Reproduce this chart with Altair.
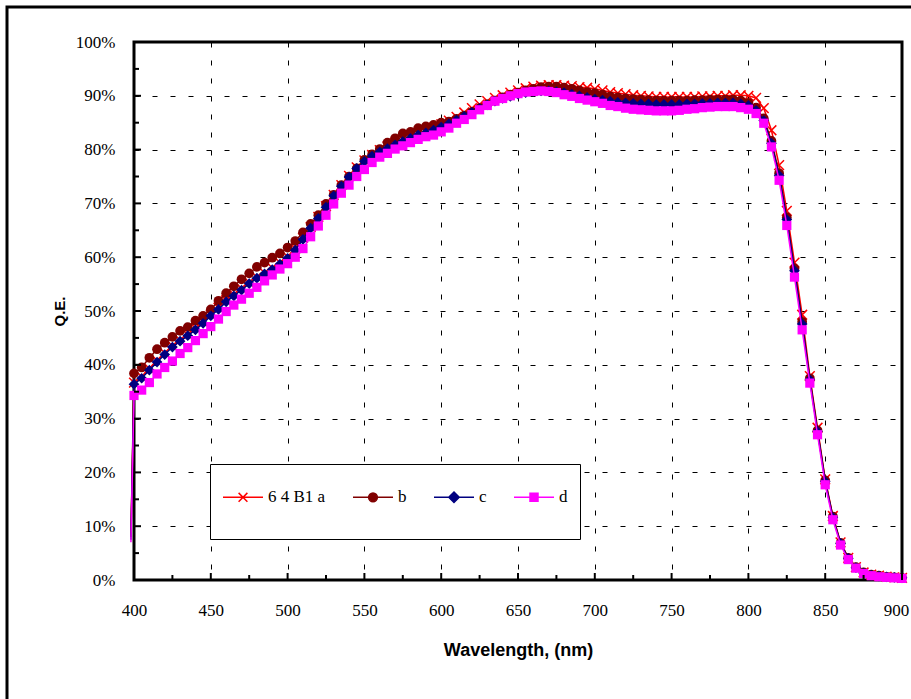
import altair as alt
import pandas as pd

wavelength = list(range(400, 905, 5))
names = ["6 4 B1 a", "b", "c", "d"]
colors = ["#FF0000", "#800000", "#000080", "#FF00FF"]

qe_a = [36.7, 37.8, 39.3, 40.8, 42.2, 43.5, 44.6, 45.6, 46.8, 48.0,
        49.3, 50.6, 52.0, 53.1, 54.2, 55.3, 56.3, 57.1, 58.0, 59.0,
        60.1, 61.6, 63.6, 65.6, 67.5, 69.5, 71.6, 73.4, 75.1, 76.7,
        78.0, 79.0, 79.9, 80.6, 81.3, 81.9, 82.5, 83.1, 83.6, 84.1,
        84.7, 85.4, 86.1, 86.9, 87.7, 88.4, 89.0, 89.6, 90.1, 90.6,
        91.0, 91.4, 91.7, 91.9, 92.0, 92.0, 91.9, 91.8, 91.6, 91.5,
        91.3, 91.0, 90.7, 90.5, 90.3, 90.1, 90.0, 89.9, 89.8, 89.8,
        89.8, 89.8, 89.8, 89.8, 89.9, 89.9, 90.0, 90.0, 90.1, 90.1,
        90.0, 89.6, 87.7, 83.6, 77.1, 68.6, 59.0, 49.3, 37.9, 28.3,
        18.7, 11.9, 7.0, 4.1, 2.4, 1.4, 1.0, 0.8, 0.6, 0.5,
        0.4]
qe_b = [38.4, 39.5, 41.3, 42.9, 44.1, 45.2, 46.3, 47.0, 48.2, 49.1,
        50.3, 51.9, 53.3, 54.6, 55.9, 57.0, 58.2, 59.0, 59.9, 60.7,
        61.8, 63.0, 64.6, 66.2, 67.8, 69.9, 71.6, 73.4, 75.0, 76.5,
        78.1, 79.1, 80.1, 81.3, 82.1, 83.0, 83.3, 84.0, 84.3, 84.6,
        85.0, 85.2, 85.7, 86.3, 87.0, 87.7, 88.4, 89.1, 89.7, 90.2,
        90.6, 91.0, 91.3, 91.6, 91.7, 91.7, 91.5, 91.3, 91.0, 90.7,
        90.5, 90.2, 89.9, 89.7, 89.5, 89.4, 89.3, 89.2, 89.1, 89.1,
        89.1, 89.1, 89.1, 89.2, 89.2, 89.3, 89.3, 89.3, 89.3, 89.1,
        88.7, 87.8, 85.8, 81.6, 75.6, 67.4, 57.9, 48.0, 37.5, 27.8,
        18.5, 11.8, 6.9, 4.1, 2.4, 1.4, 1.0, 0.8, 0.6, 0.5,
        0.4]
qe_c = [36.4, 37.5, 39.0, 40.5, 41.9, 43.3, 44.4, 45.4, 46.5, 47.7,
        49.1, 50.3, 51.7, 52.8, 53.9, 55.1, 56.1, 56.9, 57.7, 58.7,
        59.8, 61.3, 63.3, 65.4, 67.2, 69.3, 71.4, 73.2, 74.9, 76.5,
        77.8, 78.8, 79.6, 80.2, 80.9, 81.5, 82.1, 82.7, 83.1, 83.6,
        84.2, 84.8, 85.5, 86.2, 86.9, 87.6, 88.3, 89.0, 89.5, 89.9,
        90.3, 90.6, 90.8, 90.9, 90.9, 90.8, 90.6, 90.3, 90.0, 89.7,
        89.4, 89.2, 89.0, 88.8, 88.7, 88.6, 88.5, 88.5, 88.4, 88.4,
        88.4, 88.4, 88.5, 88.5, 88.6, 88.6, 88.7, 88.7, 88.7, 88.5,
        88.2, 87.3, 85.4, 81.2, 75.2, 67.0, 57.5, 47.6, 37.2, 27.6,
        18.3, 11.6, 6.8, 4.0, 2.3, 1.3, 0.9, 0.7, 0.6, 0.5,
        0.4]
qe_d = [34.3, 35.3, 36.7, 38.3, 39.5, 40.7, 42.1, 43.2, 44.5, 45.8,
        47.1, 48.5, 49.9, 51.1, 52.2, 53.3, 54.4, 55.6, 56.7, 57.8,
        58.8, 60.0, 61.6, 63.8, 65.8, 67.8, 69.9, 71.9, 73.4, 75.0,
        76.3, 77.6, 78.6, 79.3, 80.1, 80.7, 81.3, 81.9, 82.4, 82.7,
        83.3, 84.0, 84.9, 85.6, 86.5, 87.4, 88.2, 89.0, 89.5, 90.0,
        90.4, 90.7, 90.8, 90.9, 90.8, 90.6, 90.2, 89.9, 89.5, 89.2,
        88.9, 88.6, 88.2, 88.0, 87.7, 87.5, 87.4, 87.3, 87.2, 87.2,
        87.2, 87.3, 87.5, 87.6, 87.8, 87.9, 88.0, 88.0, 88.0, 87.8,
        87.5, 86.7, 84.9, 80.5, 74.3, 65.9, 56.3, 46.5, 36.6, 27.0,
        17.7, 11.2, 6.5, 3.8, 2.2, 1.2, 0.8, 0.6, 0.5, 0.4,
        0.3]

# first (unmarked) reading just below 400 nm
start_wl = 398
start_qe = [8.0, 8.0, 7.5, 7.0]

x_major = list(range(400, 901, 50))
x_minor = list(range(425, 900, 50))
y_major = list(range(0, 101, 10))
y_minor = list(range(5, 100, 10))

rows = []
for name, vals, s in zip(names, [qe_a, qe_b, qe_c, qe_d], start_qe):
    rows.append({"series": name, "wl": start_wl, "qe": s, "marker": False})
    for w, v in zip(wavelength, vals):
        rows.append({"series": name, "wl": w, "qe": v, "marker": True})
df = pd.DataFrame(rows)

W, H = 768, 538

x_enc = alt.X("wl:Q", scale=alt.Scale(domain=[400, 900], nice=False, zero=False),
              axis=alt.Axis(values=x_major, format="d", title="Wavelength, (nm)",
                            titleFont="Liberation Sans", titleFontWeight="bold", titleFontSize=18,
                            titlePadding=23, titleColor="black",
                            labelFont="Liberation Serif", labelFontSize=17, labelColor="black",
                            labelPadding=22, ticks=False, tickSize=0, domain=False,
                            labelOffset={"condition": {"test": "datum.value == 900", "value": -6}, "value": 0},
                            grid=True, gridDash=[5, 13], gridColor="black", gridWidth=1, gridOpacity=1,
                            labelFlush=False))
y_enc = alt.Y("qe:Q", scale=alt.Scale(domain=[0, 100], nice=False),
              axis=alt.Axis(values=y_major, labelExpr="datum.value + '%'", title="Q.E.",
                            titleFont="Liberation Sans", titleFontWeight="bold", titleFontSize=15,
                            titlePadding=8, titleColor="black",
                            labelFont="Liberation Serif", labelFontSize=17, labelColor="black",
                            labelPadding=19, ticks=False, tickSize=0, domain=False,
                            grid=True, gridDash=[5, 13], gridColor="black", gridWidth=1, gridOpacity=1,
                            labelFlush=False))

base = alt.Chart(df)

marker_defs = [
    dict(shape="M-1,-1L1,1M-1,1L1,-1", filled=False, size=95, strokeWidth=1.5),
    dict(shape="circle", filled=True, size=95),
    dict(shape="diamond", filled=True, size=115),
    dict(shape="square", filled=True, size=85),
]

layers = []
# outer frame of the chart area
layers.append(
    alt.Chart(pd.DataFrame({"k": [0]})).mark_rect(fill=None, stroke="black", strokeWidth=3)
    .encode(x=alt.value(-127), x2=alt.value(W + 30), y=alt.value(-35), y2=alt.value(H + 150))
)

for name, col, md in zip(names, colors, marker_defs):
    layers.append(
        base.transform_filter(alt.datum.series == name)
        .mark_line(color=col, strokeWidth=1.5)
        .encode(x=x_enc, y=y_enc, order="wl:Q")
    )
    layers.append(
        base.transform_filter((alt.datum.series == name) & alt.datum.marker)
        .mark_point(color=col, opacity=1, **md)
        .encode(x=x_enc, y=y_enc)
    )

# inside tick marks
layers.append(alt.Chart(pd.DataFrame({"wl": x_major})).mark_rule(color="black", strokeWidth=2)
              .encode(x=x_enc, y=alt.value(H), y2=alt.value(H - 7)))
layers.append(alt.Chart(pd.DataFrame({"wl": x_minor})).mark_rule(color="black", strokeWidth=2)
              .encode(x=x_enc, y=alt.value(H), y2=alt.value(H - 5)))
layers.append(alt.Chart(pd.DataFrame({"qe": y_major})).mark_rule(color="black", strokeWidth=2)
              .encode(y=y_enc, x=alt.value(0), x2=alt.value(7)))
layers.append(alt.Chart(pd.DataFrame({"qe": y_minor})).mark_rule(color="black", strokeWidth=2)
              .encode(y=y_enc, x=alt.value(0), x2=alt.value(5)))

# legend (line + marker symbols); trailing moves give each entry its row height
ext = "M0,-1.32M0,1.32"
legend_paths = [
    "M-1,0L1,0M-0.22,-0.22L0.22,0.22M-0.22,0.22L0.22,-0.22" + ext,
    "M-1,0L1,0M-0.22,0A0.22,0.22,0,1,1,0.22,0A0.22,0.22,0,1,1,-0.22,0Z" + ext,
    "M-1,0L1,0M0,-0.26L0.26,0L0,0.26L-0.26,0Z" + ext,
    "M-1,0L1,0M-0.2,-0.2L0.2,-0.2L0.2,0.2L-0.2,0.2Z" + ext,
]
leg = alt.Legend(orient="none", legendX=76, legendY=422, direction="horizontal", columns=4,
                 title=None, symbolSize=1600, symbolStrokeWidth=1.5,
                 labelFont="Liberation Serif", labelFontSize=17, labelColor="black",
                 padding=12, strokeColor="black", fillColor="white",
                 columnPadding=24, labelOffset=4)
layers.append(
    base.transform_filter("false").mark_point(opacity=1, strokeWidth=1.5)
    .encode(x=x_enc, y=y_enc,
            shape=alt.Shape("series:N", scale=alt.Scale(domain=names, range=legend_paths), legend=leg),
            fill=alt.Fill("series:N", scale=alt.Scale(domain=names, range=colors), legend=leg),
            stroke=alt.Stroke("series:N", scale=alt.Scale(domain=names, range=colors), legend=leg))
)

chart = alt.layer(*layers).properties(
    width=W, height=H,
    autosize=alt.AutoSizeParams(type="none"),
    padding={"left": 134, "top": 42, "right": 9, "bottom": 119},
    background="white",
).configure_view(stroke="black", strokeWidth=3)

chart.save("out.html", embed_options={"renderer": "svg", "actions": False})
